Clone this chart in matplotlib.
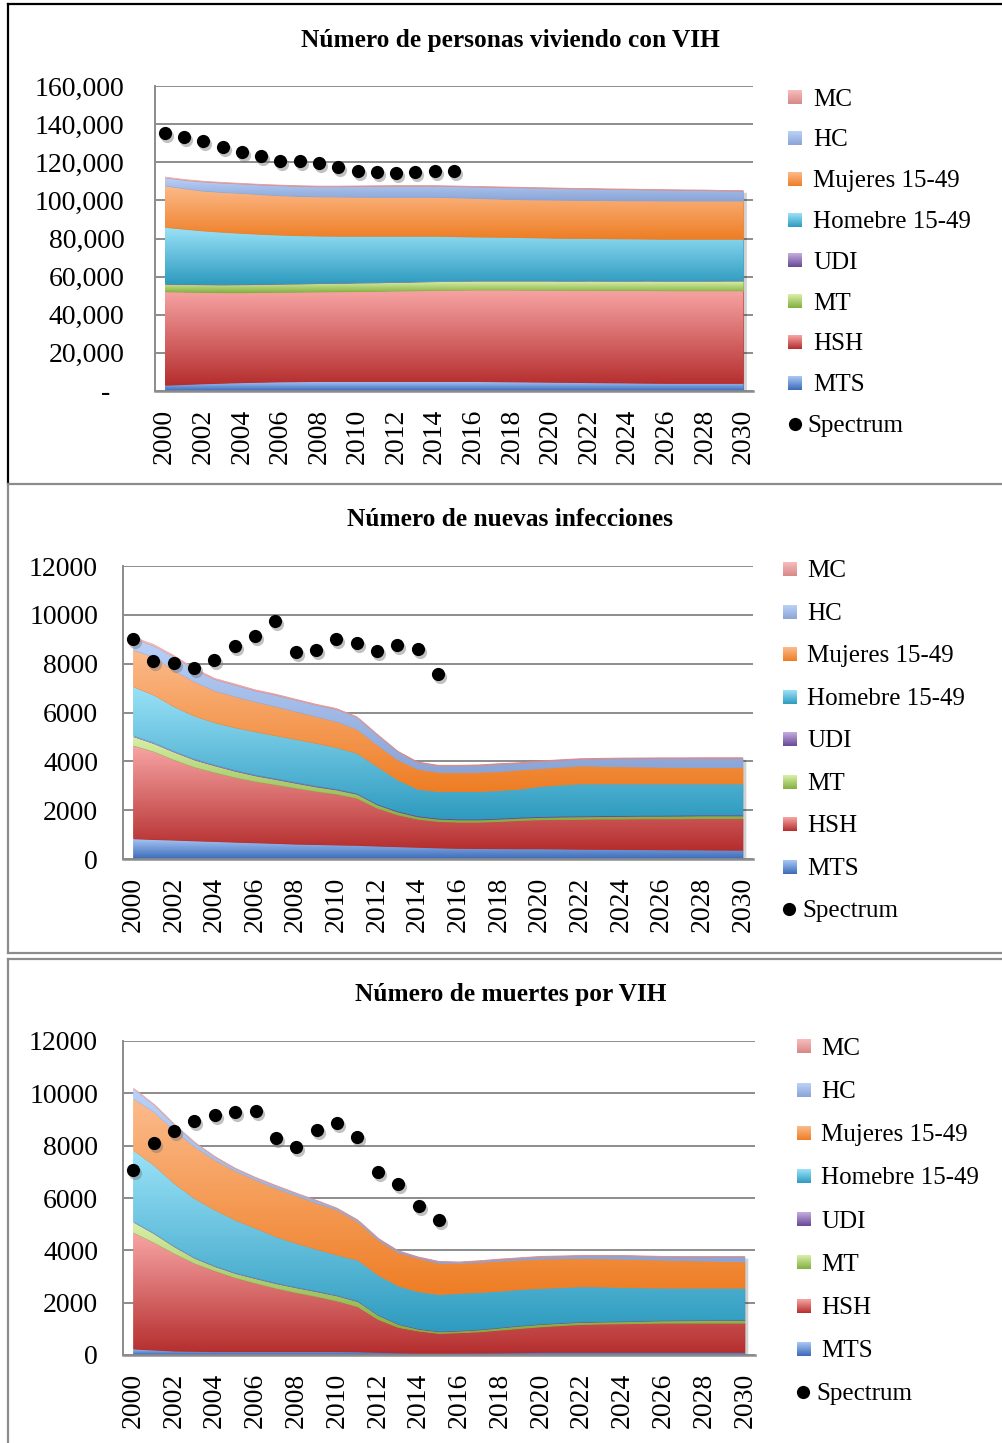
import numpy as np
import matplotlib
matplotlib.use("Agg")
import matplotlib.pyplot as plt
from matplotlib.colors import LinearSegmentedColormap
from matplotlib.ticker import FuncFormatter, MultipleLocator
from matplotlib.lines import Line2D
from matplotlib.transforms import offset_copy

plt.rcParams["font.family"] = ["Liberation Serif", "DejaVu Serif"]

# === Datos ===
years = list(range(2000, 2031))
spectrum_years = list(range(2000, 2016))

series_names = ["MTS", "HSH", "MT", "UDI", "Homebre 15-49", "Mujeres 15-49", "HC", "MC"]

# Personas viviendo con VIH
plhiv_mts = [3000, 3400, 3800, 4100, 4400, 4600, 4800, 4900, 5000, 5000, 5000, 5000, 5000, 5000, 5000, 5000,
             5000, 4900, 4800, 4700, 4600, 4500, 4400, 4300, 4200, 4100, 4000, 4000, 4000, 4000, 4000]
plhiv_hsh = [49100, 48500, 47900, 47500, 47200, 47100, 47000, 47000, 47000, 47100, 47200, 47300, 47500, 47600,
             47800, 47900, 48000, 48100, 48200, 48200, 48300, 48300, 48400, 48400, 48500, 48600, 48600, 48600,
             48600, 48600, 48600]
plhiv_mt = [4000, 4000, 4100, 4100, 4200, 4200, 4300, 4300, 4400, 4400, 4500, 4500, 4500, 4600, 4600, 4600,
            4700, 4700, 4700, 4800, 4800, 4800, 4900, 4900, 4900, 5000, 5000, 5000, 5000, 5100, 5100]
plhiv_udi = [300, 300, 300, 300, 300, 300, 300, 300, 300, 300, 300, 300, 300, 300, 300, 300,
             300, 300, 300, 300, 300, 300, 300, 300, 300, 300, 300, 300, 300, 300, 300]
plhiv_hom = [29500, 28700, 27900, 27300, 26600, 26000, 25400, 25000, 24600, 24400, 24200, 24100, 23900, 23700,
             23500, 23200, 22800, 22700, 22600, 22400, 22200, 22200, 22000, 22000, 21900, 21700, 21700, 21700,
             21700, 21600, 21600]
plhiv_muj = [21800, 21300, 20900, 20900, 21000, 20800, 20700, 20600, 20600, 20600, 20500, 20400, 20400, 20400,
             20400, 20400, 20300, 20100, 19900, 19900, 20000, 20000, 20000, 20000, 20000, 20100, 20100, 20100,
             20100, 20100, 20100]
plhiv_hc = [4200, 4400, 4800, 4900, 4900, 5100, 5200, 5300, 5300, 5400, 5600, 5800, 5900, 5900, 5900, 5900,
            6000, 6100, 6200, 6200, 6100, 6000, 6000, 5900, 5900, 5700, 5700, 5600, 5500, 5300, 5200]
plhiv_mc = [600, 580, 560, 540, 520, 500, 500, 500, 480, 480, 480, 480, 470, 470, 460, 460,
            450, 450, 450, 440, 440, 430, 430, 420, 420, 410, 410, 400, 400, 400, 400]
plhiv_spectrum = [135200, 133100, 131000, 128200, 125200, 123300, 120800, 120800, 119400, 117700, 115600,
                  114700, 114200, 114700, 115600, 115600]

# Nuevas infecciones
inf_mts = [830, 800, 775, 745, 720, 690, 665, 640, 610, 595, 575, 560, 530, 505, 480, 455,
           435, 430, 425, 420, 420, 410, 400, 395, 390, 385, 380, 375, 370, 360, 355]
inf_hsh = [3815, 3600, 3285, 3015, 2820, 2650, 2505, 2400, 2290, 2170, 2080, 1930, 1550, 1305, 1150, 1085,
           1075, 1080, 1115, 1160, 1190, 1210, 1230, 1245, 1250, 1265, 1270, 1275, 1290, 1300, 1305]
inf_mt = [370, 330, 320, 300, 280, 260, 240, 220, 205, 190, 175, 165, 140, 120, 100, 95,
          95, 95, 95, 95, 95, 100, 100, 100, 105, 105, 105, 110, 110, 110, 110]
inf_udi = [40, 40, 40, 40, 40, 40, 40, 40, 40, 40, 40, 40, 40, 40, 40, 40,
           40, 40, 40, 40, 40, 40, 40, 40, 40, 40, 40, 40, 40, 40, 40]
inf_hom = [2000, 1945, 1820, 1755, 1725, 1740, 1765, 1755, 1755, 1745, 1695, 1635, 1525, 1270, 1090, 1090,
           1120, 1120, 1130, 1145, 1225, 1270, 1310, 1300, 1295, 1285, 1285, 1280, 1270, 1270, 1270]
inf_muj = [1500, 1565, 1470, 1405, 1305, 1270, 1225, 1185, 1135, 1090, 1060, 980, 885, 820, 820, 790,
           775, 790, 775, 790, 735, 730, 735, 720, 705, 690, 680, 675, 670, 665, 665]
inf_hc = [475, 450, 570, 505, 465, 475, 450, 475, 475, 475, 505, 490, 410, 340, 270, 260,
          275, 275, 300, 270, 285, 280, 270, 300, 325, 345, 360, 365, 375, 380, 380]
inf_mc = [80, 75, 70, 65, 60, 60, 55, 55, 50, 50, 50, 45, 45, 40, 40, 40,
          40, 40, 40, 40, 40, 40, 40, 40, 40, 40, 40, 40, 40, 40, 40]
inf_spectrum = [8990, 8120, 8040, 7830, 8170, 8730, 9130, 9740, 8460, 8540, 9030, 8830, 8530, 8760, 8620, 7560]

# Muertes por VIH
dth_mts = [230, 190, 150, 140, 130, 130, 130, 130, 130, 130, 130, 120, 100, 80, 65, 65,
           70, 75, 80, 90, 100, 100, 100, 100, 100, 100, 100, 100, 100, 100, 100]
dth_hsh = [4450, 4110, 3730, 3360, 3080, 2820, 2610, 2415, 2250, 2100, 1930, 1725, 1260, 975, 850, 760,
           785, 815, 875, 930, 980, 1030, 1070, 1085, 1095, 1110, 1120, 1120, 1120, 1120, 1120]
dth_mt = [400, 340, 260, 200, 170, 170, 180, 185, 190, 190, 200, 200, 160, 115, 70, 65,
          65, 75, 85, 90, 90, 85, 80, 80, 80, 85, 90, 95, 100, 105, 110]
dth_udi = [25, 25, 25, 25, 25, 25, 25, 25, 25, 25, 25, 25, 25, 25, 25, 25,
           25, 25, 25, 25, 25, 25, 25, 25, 25, 25, 25, 25, 25, 25, 25]
dth_hom = [2718, 2589, 2389, 2256, 2134, 2009, 1895, 1763, 1668, 1592, 1531, 1557, 1507, 1438, 1407, 1399,
           1411, 1402, 1378, 1372, 1350, 1340, 1334, 1310, 1282, 1250, 1223, 1218, 1213, 1208, 1203]
dth_muj = [1973, 2036, 2036, 1973, 1909, 1871, 1845, 1845, 1820, 1756, 1718, 1463, 1336, 1273, 1272, 1184,
           1146, 1146, 1146, 1120, 1120, 1100, 1081, 1080, 1082, 1075, 1069, 1052, 1037, 1022, 1005]
dth_hc = [381, 280, 216, 165, 127, 102, 89, 102, 89, 102, 64, 64, 64, 63, 39, 63,
          38, 51, 63, 76, 89, 90, 102, 112, 127, 125, 127, 140, 155, 170, 187]
dth_mc = [40, 35, 30, 30, 30, 30, 30, 30, 30, 30, 30, 30, 30, 30, 30, 30,
          30, 30, 30, 30, 30, 30, 30, 30, 30, 30, 30, 30, 30, 30, 30]
dth_spectrum = [7060, 8110, 8570, 8930, 9190, 9290, 9320, 8300, 7950, 8590, 8880, 8340, 7000, 6540, 5680, 5150]

# === Estilo ===
grad = {
    "MTS": ("#aac8f6", "#3b6ab8"),
    "HSH": ("#f8a5a5", "#b52e2e"),
    "MT": ("#d8f1a8", "#84ae40"),
    "UDI": ("#c5aee0", "#684896"),
    "Homebre 15-49": ("#9ae2f8", "#2e9bbf"),
    "Mujeres 15-49": ("#fcbb8c", "#ee7e25"),
    "HC": ("#bad2f9", "#8aa4d6"),
    "MC": ("#f8bcbc", "#d88888"),
}
GRID = "#8c8c8c"
W, H = 1002, 1443

fig = plt.figure(figsize=(W / 100, H / 100), dpi=100)


def px_axes(left, right, top, bottom):
    return fig.add_axes([left / W, 1 - bottom / H, (right - left) / W, (bottom - top) / H])


def gradient_fill(ax, x, lo, hi, top_c, bot_c, z):
    poly = ax.fill_between(x, lo, hi, color=bot_c, lw=0, zorder=z)
    cmap = LinearSegmentedColormap.from_list("g", [bot_c, top_c])
    img = ax.imshow(np.linspace(0, 1, 256).reshape(-1, 1), cmap=cmap, origin="lower", aspect="auto",
                    extent=[x[0], x[-1], float(np.min(lo)), float(np.max(hi))], zorder=z,
                    interpolation="bilinear")
    img.set_clip_path(poly.get_paths()[0], transform=ax.transData)


def draw_panel(ax, stack, spectrum, ymax, ystep, fmt, ypad):
    x = np.arange(len(years))
    data = np.array(stack, dtype=float)
    tops = np.cumsum(data, axis=0)
    bottoms = np.vstack([np.zeros(len(years)), tops[:-1]])
    # sombra del area
    sh = offset_copy(ax.transData, fig=fig, x=3, y=-2, units="dots")
    ax.fill_between(x, 0, tops[-1], color="#000000", alpha=0.18, lw=0, zorder=1.5, transform=sh)
    for i, name in enumerate(series_names):
        gradient_fill(ax, x, bottoms[i], tops[i], grad[name][0], grad[name][1], 2 + i * 0.01)
    # puntos Spectrum
    xs = np.arange(len(spectrum))
    shd = offset_copy(ax.transData, fig=fig, x=2, y=-3, units="dots")
    ax.plot(xs, spectrum, "o", ms=9.5, color="#777777", alpha=0.45, mec="none", zorder=4, transform=shd)
    ax.plot(xs, spectrum, "o", ms=9.5, color="black", mec="none", zorder=5)

    ax.set_xlim(-0.5, len(years) - 0.5)
    ax.set_ylim(0, ymax)
    ax.yaxis.set_major_locator(MultipleLocator(ystep))
    ax.yaxis.set_major_formatter(FuncFormatter(fmt))
    ax.set_xticks(x[::2])
    ax.set_xticklabels([str(y) for y in years[::2]], rotation=90)
    ax.tick_params(axis="both", length=0, labelsize=20)
    ax.tick_params(axis="x", pad=13)
    ax.tick_params(axis="y", pad=ypad)
    ax.grid(axis="y", color=GRID, lw=1.4, zorder=1)
    ax.set_axisbelow(True)
    for s in ["top", "right"]:
        ax.spines[s].set_visible(False)
    ax.spines["left"].set_color(GRID)
    ax.spines["left"].set_linewidth(1.4)
    ax.spines["bottom"].set_color(GRID)
    ax.spines["bottom"].set_linewidth(1.8)
    ax.spines["bottom"].set_zorder(6)


ax1 = px_axes(155, 753, 86, 391)
draw_panel(ax1, [plhiv_mts, plhiv_hsh, plhiv_mt, plhiv_udi, plhiv_hom, plhiv_muj, plhiv_hc, plhiv_mc],
           plhiv_spectrum, 160000, 20000, lambda v, p: "-  " if v == 0 else f"{v:,.0f}", 22)

ax2 = px_axes(123, 753, 566, 859)
draw_panel(ax2, [inf_mts, inf_hsh, inf_mt, inf_udi, inf_hom, inf_muj, inf_hc, inf_mc],
           inf_spectrum, 12000, 2000, lambda v, p: f"{v:.0f}", 18)

ax3 = px_axes(123, 755, 1041, 1355)
draw_panel(ax3, [dth_mts, dth_hsh, dth_mt, dth_udi, dth_hom, dth_muj, dth_hc, dth_mc],
           dth_spectrum, 12000, 2000, lambda v, p: f"{v:.0f}", 18)

# === Capa superior: marcos, titulos y leyendas (coordenadas en pixeles) ===
ov = fig.add_axes([0, 0, 1, 1], zorder=10)
ov.set_xlim(0, W)
ov.set_ylim(H, 0)
ov.axis("off")
ov.patch.set_alpha(0)

for xs_, ys_, c in [([8, 8], [4, 483], "black"), ([8, W], [4, 4], "black"),
                    ([8, W], [484, 484], GRID), ([8, 8], [484, 953], GRID), ([8, W], [953, 953], GRID),
                    ([8, W], [959, 959], GRID), ([8, 8], [959, H], GRID)]:
    ov.add_line(Line2D(xs_, ys_, color=c, lw=1.6))

titles = ["Número de personas viviendo con VIH", "Número de nuevas infecciones", "Número de muertes por VIH"]
title_pos = [(510, 47), (510, 526.5), (511, 1000.5)]
for t, (tx, ty) in zip(titles, title_pos):
    ov.text(tx, ty, t, ha="center", va="baseline", fontsize=18.3, fontweight="bold")

legend_order = ["MC", "HC", "Mujeres 15-49", "Homebre 15-49", "UDI", "MT", "HSH", "MTS"]
legend_layout = [
    dict(sq=788, txt=813, row0=97.5, step=40.8, dot=795, dtxt=807),
    dict(sq=783, txt=807, row0=569.3, step=42.5, dot=789.5, dtxt=802),
    dict(sq=797, txt=821, row0=1046.7, step=43.2, dot=803.5, dtxt=816),
]
for lay in legend_layout:
    for i, name in enumerate(legend_order):
        yc = lay["row0"] + i * lay["step"]
        cmap = LinearSegmentedColormap.from_list("g", [grad[name][1], grad[name][0]])
        ov.imshow(np.linspace(1, 0, 64).reshape(-1, 1), cmap=cmap, origin="upper", aspect="auto",
                  extent=[lay["sq"], lay["sq"] + 13.5, yc + 6.75, yc - 6.75], interpolation="bilinear")
        ov.text(lay["txt"], yc + 8, name, ha="left", va="baseline", fontsize=18)
    yc = lay["row0"] + 8 * lay["step"]
    ov.plot([lay["dot"]], [yc], "o", ms=9.5, color="black", mec="none")
    ov.text(lay["dtxt"], yc + 8, "Spectrum", ha="left", va="baseline", fontsize=18)
ov.set_xlim(0, W)
ov.set_ylim(H, 0)

fig.savefig("out.png", dpi=100)
